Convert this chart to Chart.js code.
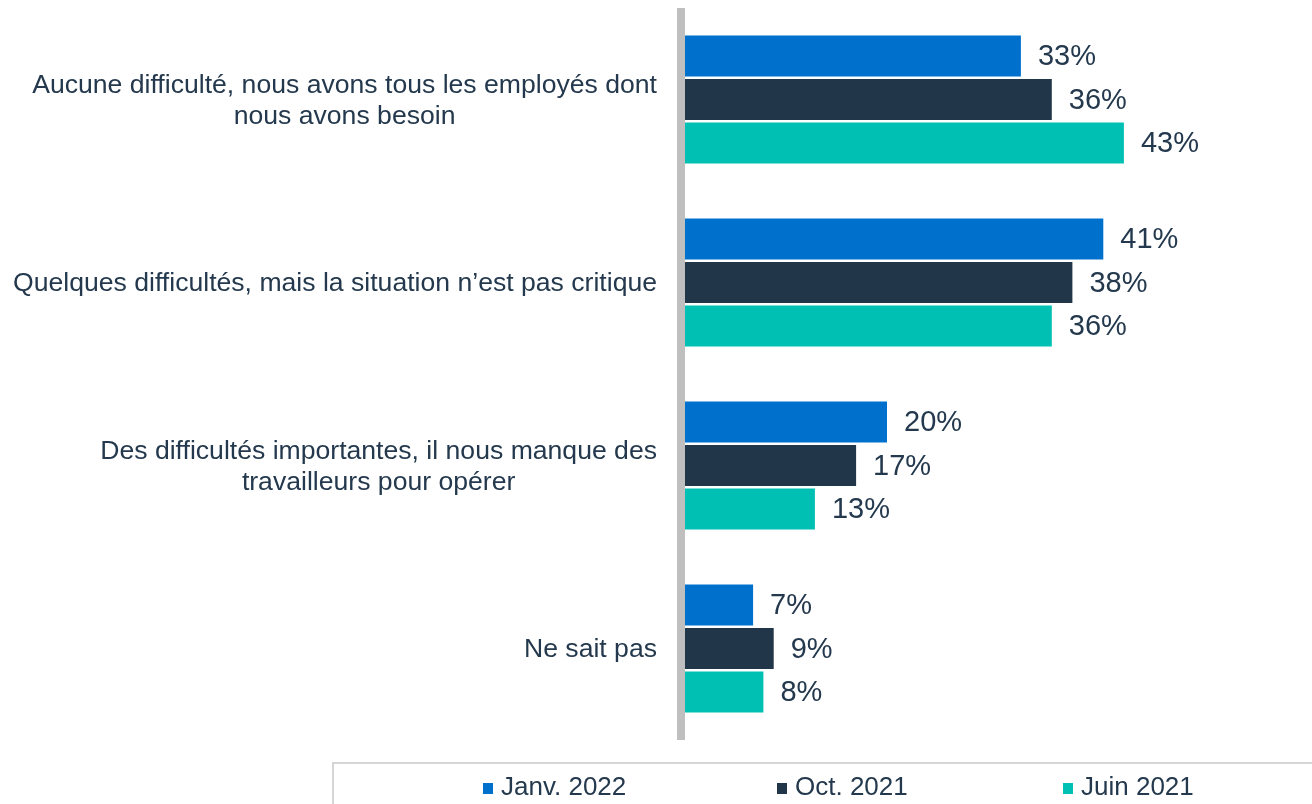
<!DOCTYPE html>
<html>
<head>
<meta charset="utf-8">
<script src="https://cdn.jsdelivr.net/npm/chart.js@4.4.1/dist/chart.umd.min.js"></script>
<style>
  html, body { margin: 0; padding: 0; background: #ffffff; }
  #wrap { position: relative; width: 1312px; height: 804px; overflow: hidden; }
  #c { position: absolute; left: 0; top: 0; }
  #legend { position: absolute; left: 332px; top: 762px; width: 1100px; height: 80px;
            border: 2px solid #d6d6d6; box-sizing: border-box; }
  .item { position: absolute; top: 7px; font: 26px "Liberation Sans", Arial, sans-serif;
          color: #24394d; white-space: nowrap; line-height: 30px; }
  .sw { display: inline-block; width: 10px; height: 11px; margin-right: 8px; vertical-align: 1px; }
</style>
</head>
<body>
<div id="wrap">
  <canvas id="c" width="1312" height="804"></canvas>
  <div id="legend"></div>
</div>
<script>
const categories = [
  ["Aucune difficulté, nous avons tous les employés dont", "nous avons besoin"],
  ["Quelques difficultés, mais la situation n’est pas critique"],
  ["Des difficultés importantes, il nous manque des", "travailleurs pour opérer"],
  ["Ne sait pas"]
];
const seriesNames = ["Janv. 2022", "Oct. 2021", "Juin 2021"];
const janv2022 = [33, 41, 20, 7];
const oct2021 = [36, 38, 17, 9];
const juin2021 = [43, 36, 13, 8];
const seriesColors = ["#0070CD", "#223649", "#00BFB3"];
const textColor = "#24394d";

const labelPlugin = {
  id: 'customLabels',
  afterDatasetsDraw(chart) {
    const ctx = chart.ctx;
    const area = chart.chartArea;
    ctx.save();
    ctx.fillStyle = '#bfbfbf';
    ctx.fillRect(area.left - 4, area.top, 8, area.bottom - area.top);
    ctx.restore();
  },
  afterDraw(chart) {
    const ctx = chart.ctx;
    const yScale = chart.scales.y;
    ctx.save();
    ctx.font = '26.6px "Liberation Sans", Arial, sans-serif';
    ctx.fillStyle = textColor;
    ctx.textBaseline = 'middle';
    ctx.textAlign = 'center';
    const rightEdge = 657;
    const lh = 31;
    categories.forEach((lines, i) => {
      const yc = yScale.getPixelForTick(i);
      let maxW = 0;
      lines.forEach(l => { maxW = Math.max(maxW, ctx.measureText(l).width); });
      const cx = rightEdge - maxW / 2;
      const y0 = yc - lh * (lines.length - 1) / 2;
      lines.forEach((l, k) => ctx.fillText(l, cx, y0 + k * lh + 1.5));
    });
    ctx.font = '29px "Liberation Sans", Arial, sans-serif';
    ctx.textAlign = 'left';
    chart.data.datasets.forEach((ds, di) => {
      const meta = chart.getDatasetMeta(di);
      meta.data.forEach((bar, j) => {
        ctx.fillText(Math.round(ds.data[j]) + '%', bar.x + 17, bar.y + 1);
      });
    });
    ctx.restore();
  }
};

new Chart(document.getElementById('c'), {
  type: 'bar',
  data: {
    labels: categories,
    datasets: [
      { label: seriesNames[0], data: janv2022, backgroundColor: seriesColors[0] },
      { label: seriesNames[1], data: oct2021, backgroundColor: seriesColors[1] },
      { label: seriesNames[2], data: juin2021, backgroundColor: seriesColors[2] }
    ]
  },
  options: {
    indexAxis: 'y',
    responsive: false,
    devicePixelRatio: 1,
    animation: false,
    layout: { padding: { left: 681, right: 13, top: 8, bottom: 64 } },
    datasets: { bar: { categoryPercentage: 0.715, barPercentage: 0.94 } },
    scales: {
      x: { display: false, min: 0, max: 60 },
      y: { display: false }
    },
    plugins: { legend: { display: false }, tooltip: { enabled: false } }
  },
  plugins: [labelPlugin]
});

const legendPos = [149, 443, 729];
const lg = document.getElementById('legend');
seriesNames.forEach((n, i) => {
  const d = document.createElement('div');
  d.className = 'item';
  d.style.left = legendPos[i] + 'px';
  const sw = document.createElement('span');
  sw.className = 'sw';
  sw.style.background = seriesColors[i];
  d.appendChild(sw);
  d.appendChild(document.createTextNode(n));
  lg.appendChild(d);
});
</script>
</body>
</html>
